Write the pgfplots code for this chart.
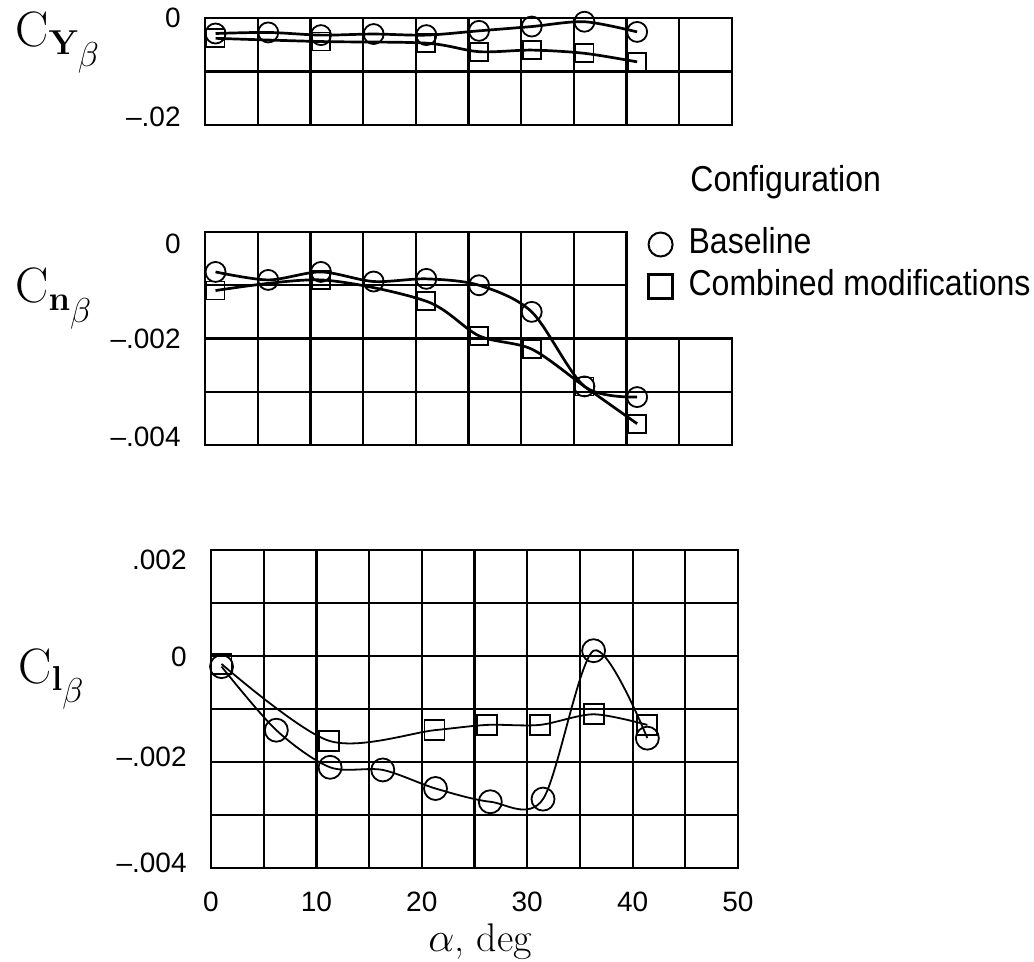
\documentclass[border=0pt]{standalone}
\usepackage[no-math]{fontspec}
\newfontfamily\tickfont{Liberation Sans}
\newfontfamily\legfont{Liberation Sans}[FakeStretch=0.89]
\usepackage{pgfplots}
\pgfplotsset{compat=1.18}
\newcommand\yl[2]{\smash{\raisebox{#1}{#2}}}
\pgfplotsset{
  panel/.style={
    scale only axis, width=263.5pt, xmin=0, xmax=50,
    xtick={0,5,...,50}, grid=major,
    grid style={line width=1.1pt, black},
    axis line style={line width=1.4pt, line cap=rect},
    major tick length=0pt,
    scaled y ticks=false, scaled x ticks=false,
    yticklabel style={anchor=east, inner sep=0pt, xshift=-12pt, font=\tickfont\fontsize{14}{16}\selectfont},
    xticklabel style={anchor=north, inner sep=0pt, yshift=-12pt, font=\tickfont\fontsize{14}{16}\selectfont},
    clip=false,
  },
  base/.style={black, smooth, line width=1.35pt, mark=o, mark size=5pt, mark options={line width=0.9pt}},
  comb/.style={black, smooth, line width=1.35pt, mark=square, mark size=4.5pt, mark options={line width=0.9pt}},
}
\begin{document}
\begin{tikzpicture}
\useasboundingbox (0,0) rectangle (517pt,-481pt);
% ---------- top panel: C_Y beta ----------
\begin{axis}[panel, at={(102.5pt,-9pt)}, anchor=north west, height=53.5pt,
  ymin=-0.02, ymax=0, ytick={-0.02,-0.01,0},
  yticklabels={\yl{-1pt}{–.02},,\yl{-5pt}{0}}, xticklabels={}]
\addplot[comb, forget plot] coordinates {(1,-0.0038)(11,-0.0044)(21,-0.0047)(26,-0.0063)(31,-0.0060)(36,-0.0066)(41,-0.0082)};
\addplot[base, forget plot] coordinates {(1,-0.0029)(6,-0.0027)(11,-0.0032)(16,-0.0030)(21,-0.0032)(26,-0.0024)(31,-0.0016)(36,-0.0007)(41,-0.0026)};
\end{axis}
% ---------- middle panel: C_n beta ----------
\begin{axis}[panel, at={(102.5pt,-116pt)}, anchor=north west, height=106.5pt,
  ymin=-0.004, ymax=0, ytick={-0.004,-0.003,-0.002,-0.001,0},
  yticklabels={\yl{-1pt}{–.004},,\yl{-5pt}{–.002},,\yl{-11pt}{0}}, xticklabels={},
  legend style={draw=none, fill=none, at={(0.841,1.023)}, anchor=north west,
    inner sep=0pt, row sep=4pt, column sep=8pt,
    font=\legfont\fontsize{18}{20}\selectfont,
    nodes={inner sep=0pt, text height=13pt, text depth=4pt}},
  legend cell align=left]
\addlegendimage{only marks, mark=o, mark size=6pt, mark options={line width=1pt}}
\addlegendentry{Baseline}
\addlegendimage{only marks, mark=square, mark size=6pt, mark options={line width=1.8pt}}
\addlegendentry{Combined modifications}
\fill[white] ([xshift=0.8pt,yshift=3pt]axis cs:40,0) rectangle ([xshift=3pt,yshift=0.8pt]axis cs:50,-0.002);
\draw[line width=1.4pt, line cap=rect] (axis cs:40,0) -- (axis cs:40,-0.002);
\addplot[comb, forget plot] coordinates {(1,-0.0011)(11,-0.0009)(21,-0.0013)(26,-0.00195)(31,-0.0022)(36,-0.0029)(41,-0.0036)};
\addplot[base, forget plot] coordinates {(1,-0.00075)(6,-0.0009)(11,-0.00075)(16,-0.00093)(21,-0.00088)(26,-0.0010)(31,-0.0015)(36,-0.0029)(41,-0.0031)};
\end{axis}
% ---------- bottom panel: C_l beta ----------
\begin{axis}[panel, at={(105.5pt,-275pt)}, anchor=north west, height=159pt,
  ymin=-0.004, ymax=0.002, ytick={-0.004,-0.003,-0.002,-0.001,0,0.001,0.002},
  yticklabels={\yl{-2pt}{–.004},,\yl{-2pt}{–.002},,\yl{-5pt}{0},,\yl{-10pt}{.002}},
  xticklabels={0,,10,,20,,30,,40,,50}]
\addplot[comb, line width=0.9pt, mark size=5pt, forget plot] coordinates {(1,-0.00015)(11.2,-0.0016)(21.2,-0.0014)(26.2,-0.0013)(31.2,-0.0013)(36.3,-0.0011)(41.4,-0.0013)};
\addplot[base, line width=0.9pt, mark size=5.75pt, forget plot] coordinates {(1,-0.0002)(6.2,-0.0014)(11.3,-0.0021)(16.3,-0.00215)(21.3,-0.0025)(26.5,-0.00275)(31.5,-0.0027)(36.3,0.0001)(41.4,-0.00155)};
\end{axis}
% ---------- labels ----------
\node[anchor=base west, inner sep=0pt, font=\fontsize{24}{27}\selectfont] at (7.5pt,-23.5pt) {$\mathrm{C}_{\mathbf{Y}_{\scriptstyle\beta}}$};
\node[anchor=base west, inner sep=0pt, font=\fontsize{24}{27}\selectfont] at (7.5pt,-151.5pt) {$\mathrm{C}_{\mathbf{n}_{\scriptstyle\beta}}$};
\node[anchor=base west, inner sep=0pt, font=\fontsize{24}{27}\selectfont] at (9pt,-341.5pt) {$\mathrm{C}_{\mathbf{l}_{\scriptstyle\beta}}$};
\node[anchor=base, inner sep=0pt, font=\fontsize{20}{23}\selectfont] at (240pt,-475.5pt) {$\alpha$, deg};
\node[anchor=base west, inner sep=0pt, font=\legfont\fontsize{18}{20}\selectfont] at (345pt,-96pt) {Configuration};
\end{tikzpicture}
\end{document}
